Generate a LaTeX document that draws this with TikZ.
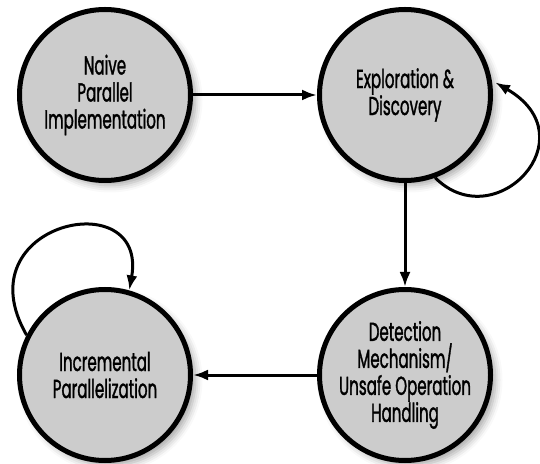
\documentclass[tikz,border=0pt]{standalone}
\usepackage{fontspec}
\setmainfont[FakeStretch=0.58,FakeBold=1.2]{Poppins}
\usetikzlibrary{arrows.meta,shadows.blur}
\definecolor{nodefill}{HTML}{CCCCCC}
\tikzset{
  phase/.style={circle, draw=black, line width=5pt, fill=nodefill,
    minimum size=171pt, inner sep=0pt, align=center,
    font=\fontsize{26}{27}\selectfont,
    blur shadow={shadow xshift=5pt, shadow yshift=-5pt,
      shadow blur radius=7pt, shadow opacity=35}},
  flow/.style={line width=3pt, -{Latex[length=15pt,width=11pt]}}
}
\begin{document}
\begin{tikzpicture}[x=1pt,y=1pt]
  \useasboundingbox (0,0) rectangle (540,463);
  % the four phases
  \node[phase] (naive)  at (105,368) {Naive\\Parallel\\Implementation};
  \node[phase] (expl)   at (405,368) {Exploration \&\\Discovery};
  \node[phase] (incr)   at (105,88)  {Incremental\\Parallelization};
  \node[phase] (detect) at (405,88)  {Detection\\Mechanism/\\Unsafe Operation\\Handling};
  % transitions
  \draw[flow] (naive) -- (expl);
  \draw[flow] (expl) -- (detect);
  \draw[flow] (detect) -- (incr);
  % self loops
  \coordinate (explin) at ([shift={(8:91pt)}]expl.center);
  \draw[flow] (expl.-70) .. controls +(-45:85) and +(-30:110) .. (explin);
  \draw[flow] (incr.153) .. controls +(120:130) and +(80:110) .. (incr.74);
\end{tikzpicture}
\end{document}
